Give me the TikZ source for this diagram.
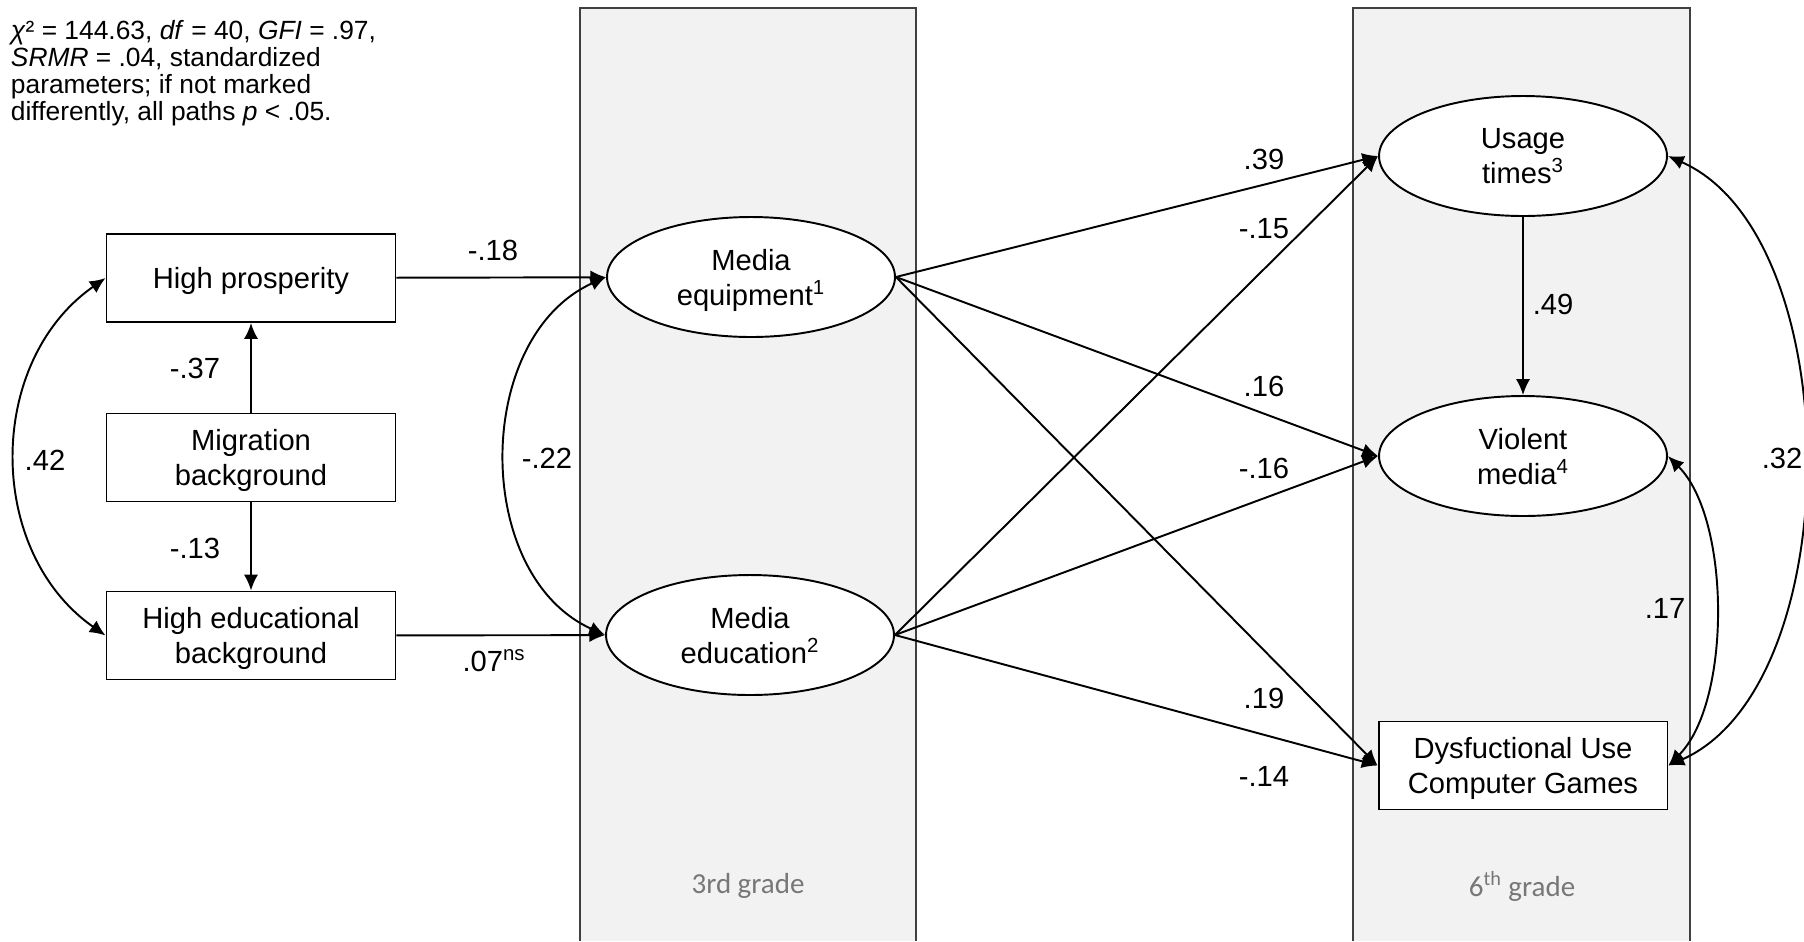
\documentclass[tikz,border=0pt]{standalone}
\usepackage{fontspec}
\setmainfont{Liberation Sans}
\newfontfamily\gradefont{Carlito}
\usetikzlibrary{arrows.meta,shapes.geometric}
\definecolor{panelgray}{HTML}{F2F2F2}
\definecolor{panelline}{HTML}{404040}
\definecolor{gradetext}{HTML}{777777}
\begin{document}
\begin{tikzpicture}[x=0.02cm,y=0.02cm,line width=1.1pt,
  >={Latex[length=9pt,width=8pt]},
  font=\fontsize{16.6}{20}\selectfont,
  box/.style={draw,fill=white,minimum width=5.78cm,minimum height=1.76cm,align=center,inner sep=0pt,text depth=0pt},
  latent/.style={draw,ellipse,fill=white,minimum width=5.76cm,minimum height=2.4cm,align=center,inner sep=0pt,text depth=0pt},
  grade/.style={font=\gradefont\fontsize{16.5}{20}\selectfont,text=gradetext}]
\useasboundingbox (0,0) rectangle (1804,-941);
% grade panels
\fill[panelgray] (580,-8) rectangle (916,-941);
\fill[panelgray] (1353,-8) rectangle (1690,-941);
\draw[panelline] (580,-941)--(580,-8)--(916,-8)--(916,-941);
\draw[panelline] (1353,-941)--(1353,-8)--(1690,-8)--(1690,-941);
\node[grade] (g3) at (748,-886) {3rd grade};
\node[grade] (g6) at (1522,-886) {6\textsuperscript{th} grade};
% fit note
\node[anchor=north west,align=left,inner sep=0pt,font=\fontsize{15}{15.4}\selectfont] (note) at (10,-19)
  {\textit{χ}² = 144.63, \textit{df} = 40, \textit{GFI} = .97,\\
   \textit{SRMR} = .04, standardized\\
   parameters; if not marked\\
   differently, all paths \textit{p} < .05.};
% variables
\node[box] (prosp) at (251,-278) {High prosperity};
\node[box] (migr) at (251,-457.5) {Migration\\background};
\node[box] (educ) at (251,-635.5) {High educational\\background};
\node[latent] (equip) at (751,-277) {Media\\equipment\textsuperscript{1}};
\node[latent] (mediaed) at (750,-635) {Media\\education\textsuperscript{2}};
\node[latent] (usage) at (1523,-156) {Usage\\times\textsuperscript{3}};
\node[latent] (violent) at (1523,-456) {Violent\\media\textsuperscript{4}};
\node[box] (dysf) at (1523,-765.5) {Dysfuctional Use\\Computer Games};
% paths
\draw[->] (migr) -- (prosp);
\draw[->] (migr) -- (educ);
\draw[<->] (prosp.west) .. controls +(-120,-84) and +(-120,84) .. (educ.west);
\draw[->] (prosp) -- (equip);
\draw[->] (educ) -- (mediaed);
\draw[<->] (equip.west) .. controls +(-133,-60) and +(-133,60) .. (mediaed.west);
\foreach \t in {usage,violent,dysf}{
  \draw[->] (equip.east) -- (\t.west);
  \draw[->] (mediaed.east) -- (\t.west);
}
\draw[->] (usage) -- (violent);
\draw[<->] (usage.east) .. controls +(181,-80) and +(181,80) .. (dysf.east);
\draw[<->] (violent.east) .. controls +(63,-63) and +(63,63) .. (dysf.east);
% coefficients
\node (c37) at (195,-368) {-.37};
\node (c13) at (195,-548) {-.13};
\node (c42) at (45,-460) {.42};
\node (c18) at (493,-250) {-.18};
\node (c07) at (494,-661) {.07\textsuperscript{ns}};
\node (c22) at (547,-458) {-.22};
\node (c39) at (1264,-159) {.39};
\node (c15) at (1264,-229) {-.15};
\node (c16) at (1264,-386) {.16};
\node (cm16) at (1264,-468) {-.16};
\node (c19) at (1264,-698) {.19};
\node (c14) at (1264,-776) {-.14};
\node (c49) at (1553,-304) {.49};
\node (c17) at (1665,-608) {.17};
\node (c32) at (1782,-458) {.32};
\end{tikzpicture}
\end{document}
